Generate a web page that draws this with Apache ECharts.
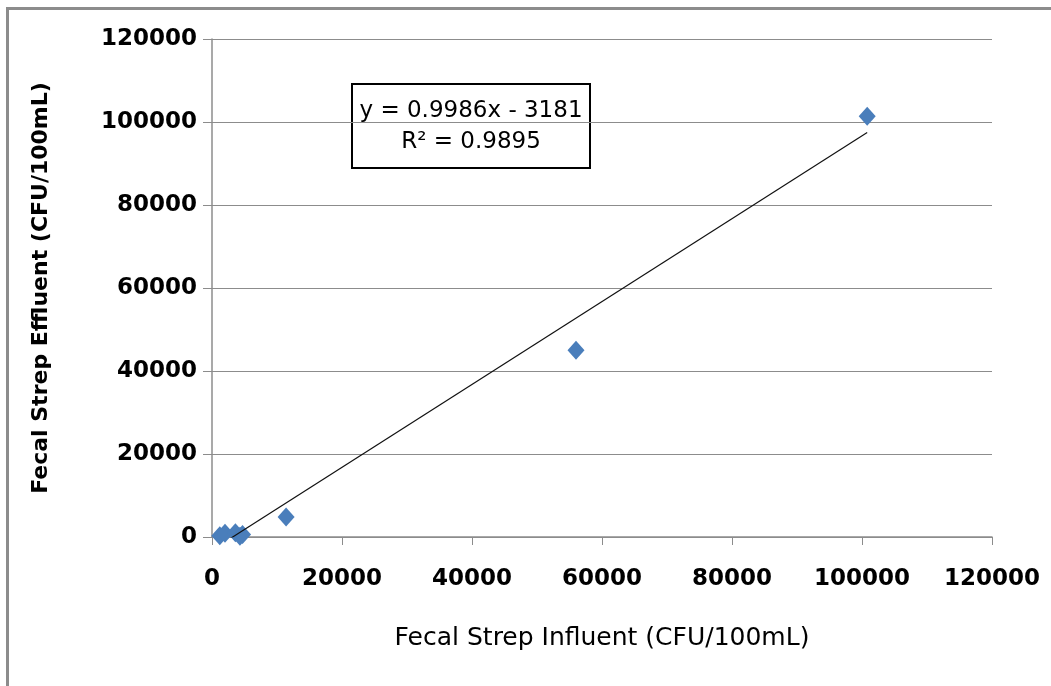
<!DOCTYPE html>
<html>
<head>
<meta charset="utf-8">
<style>
  html, body { margin: 0; padding: 0; background: #fff; }
  #frame { position: absolute; left: 6px; top: 7px; width: 1060px; height: 700px;
    border-left: 3px solid #8c8c8c; border-top: 3px solid #8c8c8c; }
  #chart { position: absolute; left: 0; top: 0; width: 1051px; height: 686px; }
</style>
<script src="https://cdn.jsdelivr.net/npm/echarts@6/dist/echarts.min.js"></script>
</head>
<body>
<div id="frame"></div>
<div id="chart"></div>
<script>
// influent vs effluent (CFU/100mL)
const influent = [1200, 2000, 3600, 4300, 4700, 11400, 56000, 100800]
const effluent = [300, 900, 1000, 200, 600, 4800, 45000, 101400]
const slope = 0.9986
const intercept = -3181
const equationText = 'y = 0.9986x - 3181'
const r2Text = 'R² = 0.9895'

const points = influent.map((x, i) => [x, effluent[i]])
const xs = [Math.min(...influent), Math.max(...influent)]
const trend = xs.map(x => [x, slope * x + intercept])

const font = 'DejaVu Sans'
const axisFont = { fontFamily: font, fontWeight: 'bold', fontSize: 23, color: '#000' }
const gray = '#8c8c8c'

const chart = echarts.init(document.getElementById('chart'))
chart.setOption({
  animation: false,
  grid: { left: 212, right: 59, top: 39, bottom: 149 },
  xAxis: {
    type: 'value', min: 0, max: 120000, interval: 20000,
    name: 'Fecal Strep Influent (CFU/100mL)',
    nameLocation: 'middle', nameGap: 89,
    nameTextStyle: { fontFamily: font, fontSize: 25, color: '#000' },
    axisLine: { lineStyle: { color: gray, width: 1.5 } },
    axisTick: { show: true, length: 8, lineStyle: { color: gray } },
    axisLabel: { ...axisFont, margin: 31, formatter: v => String(v) },
    splitLine: { show: false }
  },
  yAxis: {
    type: 'value', min: 0, max: 120000, interval: 20000,
    name: 'Fecal Strep Effluent (CFU/100mL)',
    nameLocation: 'middle', nameGap: 160,
    nameTextStyle: { fontFamily: font, fontWeight: 'bold', fontSize: 22, color: '#000' },
    axisLine: { show: true, lineStyle: { color: gray, width: 1.5 } },
    axisTick: { show: true, length: 9, lineStyle: { color: gray } },
    axisLabel: { ...axisFont, margin: 15, formatter: v => String(v) },
    splitLine: { lineStyle: { color: gray, width: 1.2 } }
  },
  series: [
    {
      type: 'line', data: trend, symbol: 'none', clip: true,
      lineStyle: { color: '#111', width: 1.2 }, z: 3
    },
    {
      type: 'scatter', data: points, symbol: 'diamond', symbolSize: [17, 19],
      itemStyle: { color: '#4a7ebb', opacity: 1 }, z: 2
    }
  ],
  graphic: [
    {
      type: 'rect', x: 352, y: 84,
      shape: { width: 238, height: 84 },
      style: { fill: '#fff', stroke: '#000', lineWidth: 2 }
    },
    {
      type: 'text', x: 471, y: 111,
      style: { text: equationText, textAlign: 'center', textVerticalAlign: 'middle',
        font: '23px "DejaVu Sans"', fill: '#000' }
    },
    {
      type: 'text', x: 471, y: 142,
      style: { text: r2Text, textAlign: 'center', textVerticalAlign: 'middle',
        font: '23px "DejaVu Sans"', fill: '#000' }
    }
  ]
})
</script>
</body>
</html>
